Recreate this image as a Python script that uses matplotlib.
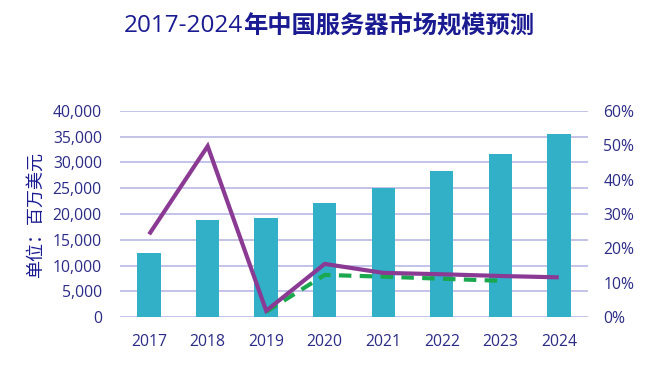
import matplotlib
matplotlib.use("Agg")
import matplotlib.pyplot as plt
import numpy as np
from matplotlib.ticker import FuncFormatter, MultipleLocator

years = ["2017", "2018", "2019", "2020", "2021", "2022", "2023", "2024"]
market_size = [12400, 18780, 19280, 22190, 24980, 28270, 31680, 35430]
growth_rate = [24.1, 49.7, 1.9, 15.5, 12.9, 12.5, 12.0, 11.6]
growth_dashed = [None, None, 1.6, 12.3, 11.8, 11.2, 10.6, None]

title_num = "2017-2024"
title_txt = "年中国服务器市场规模预测"
ylabel = "单位：百万美元"

navy = "#2b2b88"
title_c = "#1a1a92"
grid_c = "#b9b9e8"
bar_c = "#31b0c8"
purple = "#8b3a94"
green = "#1aa84e"

fig = plt.figure(figsize=(6.66, 3.65), dpi=100)
ax = fig.add_axes([0.180, 0.1307, 0.703, 0.566])
ax2 = ax.twinx()

x = np.arange(len(years))
ax.bar(x, market_size, width=0.4, color=bar_c, zorder=2)
ax.set_xlim(-0.5, len(years) - 0.5)
ax.set_ylim(0, 40000)
ax.yaxis.set_major_locator(MultipleLocator(5000))
ax.yaxis.set_major_formatter(FuncFormatter(lambda v, p: f"{int(v):,}"))
ax.grid(axis="y", color=grid_c, linewidth=1.2, zorder=0)
ax.set_axisbelow(True)
ax.set_xticks(x)
ax.set_xticklabels(years)

ax2.set_ylim(0, 60)
ax2.yaxis.set_major_locator(MultipleLocator(10))
ax2.yaxis.set_major_formatter(FuncFormatter(lambda v, p: f"{int(v)}%"))

gx = [i for i, v in enumerate(growth_dashed) if v is not None]
gy = [v for v in growth_dashed if v is not None]
ax2.plot(gx, gy, color=green, linewidth=3, linestyle=(0, (3, 2)), zorder=3)
ax2.plot(x, growth_rate, color=purple, linewidth=3, zorder=4,
         solid_capstyle="butt", solid_joinstyle="miter")

fam = ["Open Sans", "Noto Sans CJK SC", "DejaVu Sans"]
for a in (ax, ax2):
    for s in a.spines.values():
        s.set_visible(False)
    a.tick_params(length=0, colors=navy, labelsize=11.3)
    for lab in a.get_xticklabels() + a.get_yticklabels():
        lab.set_family(fam)
        lab.set_color(navy)
ax.tick_params(axis="x", pad=12)
ax.tick_params(axis="y", pad=13)
ax2.tick_params(axis="y", pad=11)

fig.text(0.053, 1 - 214.5 / 365, ylabel, rotation=90, ha="center", va="center",
         fontsize=13, color=title_c, family=["Noto Sans CJK SC", "DejaVu Sans"])

fig.text(243 / 666, 1 - 26 / 365, title_num, ha="right", va="center",
         fontsize=17.5, color=title_c, family=["Open Sans", "Noto Sans CJK SC"])
fig.text(243 / 666, 1 - 26 / 365, title_txt, ha="left", va="center",
         fontsize=17.5, color=title_c, fontweight="bold",
         family=["Noto Sans CJK SC", "DejaVu Sans"])

fig.savefig("out.png", dpi=100)
